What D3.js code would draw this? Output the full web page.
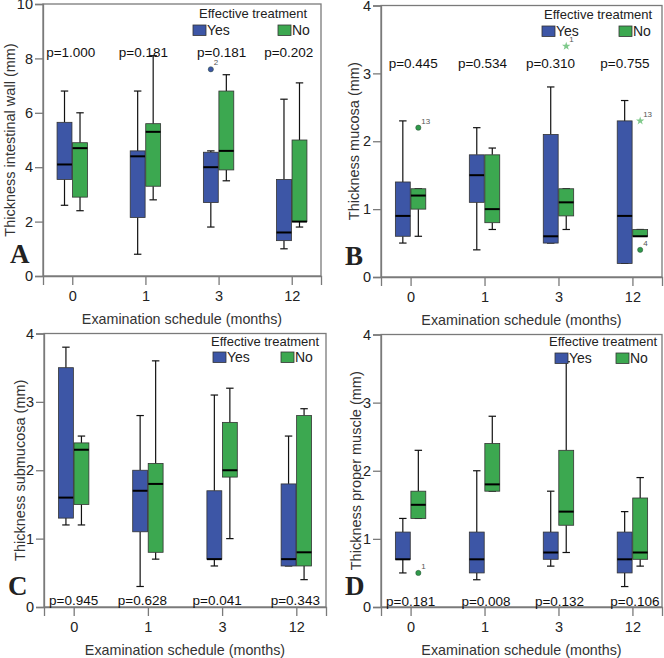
<!DOCTYPE html>
<html><head><meta charset="utf-8">
<script src="https://cdn.jsdelivr.net/npm/d3@7"></script>
<style>
body{margin:0;background:#fff}
text{font-family:"Liberation Sans",Arial,Helvetica,sans-serif}
text.letter{font-family:"Liberation Serif","Times New Roman",serif;font-weight:bold}
</style>
</head><body>
<svg id="c" width="664" height="658"></svg>
<script>
// ---------------- DATA ----------------
const categories = ["0", "1", "3", "12"];
const groups = ["Yes", "No"];
const legendTitle = "Effective treatment";
const xTitle = "Examination schedule (months)";
// each entry: [lower whisker, Q1, median, Q3, upper whisker]
const wallYes      = [[2.6, 3.55, 4.1, 5.65, 6.8], [0.8, 2.15, 4.4, 4.6, 6.8], [1.8, 2.7, 4.0, 4.55, 4.6], [1.0, 1.3, 1.6, 3.55, 6.5]];
const wallNo       = [[2.4, 2.9, 4.7, 4.9, 6.0], [2.8, 3.3, 5.3, 5.6, 8.1], [3.5, 3.9, 4.6, 6.8, 7.4], [1.8, 2.0, 2.0, 5.0, 7.1]];
const mucosaYes    = [[0.5, 0.6, 0.9, 1.4, 2.3], [0.4, 1.1, 1.5, 1.8, 2.2], [0.5, 0.5, 0.6, 2.1, 2.8], [0.2, 0.2, 0.9, 2.3, 2.6]];
const mucosaNo     = [[0.6, 1.0, 1.2, 1.3, 1.3], [0.7, 0.8, 1.0, 1.8, 1.9], [0.7, 0.9, 1.1, 1.3, 1.3], [0.6, 0.6, 0.6, 0.7, 0.7]];
const submucosaYes = [[1.2, 1.3, 1.6, 3.5, 3.8], [0.3, 1.1, 1.7, 2.0, 2.8], [0.6, 0.7, 0.7, 1.7, 3.1], [0.6, 0.6, 0.7, 1.8, 2.5]];
const submucosaNo  = [[1.2, 1.5, 2.3, 2.4, 2.5], [0.7, 0.8, 1.8, 2.1, 3.6], [1.0, 1.9, 2.0, 2.7, 3.2], [0.4, 0.6, 0.8, 2.8, 2.9]];
const muscleYes    = [[0.5, 0.7, 0.7, 1.1, 1.3], [0.4, 0.5, 0.7, 1.1, 2.0], [0.6, 0.7, 0.8, 1.1, 1.7], [0.3, 0.5, 0.7, 1.1, 1.4]];
const muscleNo     = [[1.3, 1.3, 1.5, 1.7, 2.3], [1.7, 1.7, 1.8, 2.4, 2.8], [0.8, 1.2, 1.4, 2.3, 3.6], [0.6, 0.7, 0.8, 1.6, 1.9]];

const wallOutliers = [{cat: "3", group: "Yes", value: 7.6, label: "2", kind: "circle"}];
const mucosaOutliers = [
  {cat: "0", group: "No", value: 2.2, label: "13", kind: "circle"},
  {cat: "3", group: "No", value: 3.4, label: "1", kind: "star"},
  {cat: "12", group: "No", value: 2.3, label: "13", kind: "star"},
  {cat: "12", group: "No", value: 0.4, label: "4", kind: "circle"}
];
const submucosaOutliers = [];
const muscleOutliers = [{cat: "0", group: "No", value: 0.5, label: "1", kind: "circle"}];

const wallP      = ["p=1.000", "p=0.181", "p=0.181", "p=0.202"];
const mucosaP    = ["p=0.445", "p=0.534", "p=0.310", "p=0.755"];
const submucosaP = ["p=0.945", "p=0.628", "p=0.041", "p=0.343"];
const muscleP    = ["p=0.181", "p=0.008", "p=0.132", "p=0.106"];

const wallTicks = [0, 2, 4, 6, 8, 10];
const mmTicks = [0, 1, 2, 3, 4];

// ---------------- LAYOUT ----------------
const colors = {Yes: "#3D56A6", No: "#3CA850"};
const panels = [
  {letter: "A", yTitle: "Thickness intestinal wall (mm)", yes: wallYes, no: wallNo, out: wallOutliers, p: wallP,
   ticks: wallTicks, ymax: 10, x0: 43, x1: 321, yb: 276, yt: 4, pY: 57, pOff: [-1.5, -2, 3, -3],
   yTitleX: 15, letterX: 10, letterY: 263, leg: {tx: 199, ty: 18, sx1: 193, sx2: 278, sy: 25}},
  {letter: "B", yTitle: "Thickness mucosa (mm)", yes: mucosaYes, no: mucosaNo, out: mucosaOutliers, p: mucosaP,
   ticks: mmTicks, ymax: 4, x0: 381, x1: 662, yb: 277, yt: 5.5, pY: 68, pOff: [2.7, -2, -8, -7.5],
   yTitleX: 359, letterX: 345, letterY: 265, leg: {tx: 544, ty: 18.5, sx1: 542, sx2: 619, sy: 26}},
  {letter: "C", yTitle: "Thickness submucosa (mm)", yes: submucosaYes, no: submucosaNo, out: submucosaOutliers, p: submucosaP,
   ticks: mmTicks, ymax: 4, x0: 44, x1: 326, yb: 607, yt: 333.5, pY: 605, pOff: [0, -5.5, -5, -1],
   yTitleX: 25, letterX: 8, letterY: 595, leg: {tx: 211, ty: 345.5, sx1: 213, sx2: 281, sy: 352}},
  {letter: "D", yTitle: "Thickness proper muscle (mm)", yes: muscleYes, no: muscleNo, out: muscleOutliers, p: muscleP,
   ticks: mmTicks, ymax: 4, x0: 381, x1: 662, yb: 607, yt: 334.5, pY: 605.5, pOff: [0, 1.5, 1, 2.5],
   yTitleX: 361, letterX: 345, letterY: 595, leg: {tx: 549, ty: 346, sx1: 555, sx2: 616, sy: 353}}
];

const svg = d3.select("#c");
const frameColor = "#7a7a7a";

panels.forEach(P => {
  const g = svg.append("g");
  const x = d3.scalePoint().domain(categories).range([P.x0, P.x1]).padding(0.4);
  const xg = d3.scaleBand().domain(groups).range([-15.2, 15.2]).paddingInner(0.04);
  const y = d3.scaleLinear().domain([0, P.ymax]).range([P.yb, P.yt]);

  // frame
  g.append("rect").attr("x", P.x0).attr("y", P.yt).attr("width", P.x1 - P.x0).attr("height", P.yb - P.yt)
    .attr("fill", "none").attr("stroke", frameColor).attr("stroke-width", 1.3);

  // axes
  const ya = g.append("g").attr("transform", `translate(${P.x0},0)`)
    .call(d3.axisLeft(y).tickValues(P.ticks).tickSize(8).tickPadding(2).tickFormat(d3.format("d")));
  const xa = g.append("g").attr("transform", `translate(0,${P.yb})`)
    .call(d3.axisBottom(x).tickSize(9).tickPadding(6));
  [ya, xa].forEach(a => {
    a.select(".domain").attr("stroke", frameColor).attr("stroke-width", 1.3);
    a.selectAll(".tick line").attr("stroke", frameColor).attr("stroke-width", 1.3);
    a.selectAll(".tick text").attr("font-size", 14.5).attr("fill", "#222");
  });

  // boxes
  const series = groups.map(gr => ({gr, vals: gr === "Yes" ? P.yes : P.no}));
  series.forEach(s => {
    s.vals.forEach((v, i) => {
      const cat = categories[i];
      const bx = x(cat) + xg(s.gr);
      const bw = xg.bandwidth();
      const cx = bx + bw / 2;
      const [lo, q1, md, q3, hi] = v;
      const bg = g.append("g");
      bg.append("line").attr("x1", cx).attr("x2", cx).attr("y1", y(q3)).attr("y2", y(hi))
        .attr("stroke", "#111").attr("stroke-width", 1.2);
      bg.append("line").attr("x1", cx).attr("x2", cx).attr("y1", y(q1)).attr("y2", y(lo))
        .attr("stroke", "#111").attr("stroke-width", 1.2);
      [lo, hi].forEach(w => bg.append("line").attr("x1", cx - bw / 4).attr("x2", cx + bw / 4)
        .attr("y1", y(w)).attr("y2", y(w)).attr("stroke", "#111").attr("stroke-width", 1.2));
      bg.append("rect").attr("x", bx).attr("width", bw).attr("y", y(q3)).attr("height", Math.max(0.5, y(q1) - y(q3)))
        .attr("fill", colors[s.gr]).attr("stroke", "#333").attr("stroke-width", 0.8);
      bg.append("line").attr("x1", bx).attr("x2", bx + bw).attr("y1", y(md)).attr("y2", y(md))
        .attr("stroke", "#000").attr("stroke-width", 2);
    });
  });

  // outliers
  P.out.forEach(o => {
    const cx = x(o.cat) + xg(o.group) + xg.bandwidth() / 2;
    const cy = y(o.value);
    if (o.kind === "circle") {
      g.append("circle").attr("cx", cx).attr("cy", cy).attr("r", 2.6)
        .attr("fill", o.group === "Yes" ? colors.Yes : "#2f9a4a").attr("stroke", "#2b4a36").attr("stroke-width", 0.5);
    } else {
      g.append("path").attr("d", d3.symbol().type(d3.symbolStar).size(22)())
        .attr("transform", `translate(${cx},${cy})`).attr("fill", "#7fc98a");
    }
    g.append("text").attr("x", cx + 3).attr("y", cy - 4).attr("font-size", 8).attr("fill", "#555").text(o.label);
  });

  // p-values
  P.p.forEach((t, i) => {
    g.append("text").attr("x", x(categories[i]) + P.pOff[i]).attr("y", P.pY).attr("text-anchor", "middle")
      .attr("font-size", 13.5).attr("fill", "#111").text(t);
  });

  // legend
  const L = P.leg;
  g.append("text").attr("x", L.tx).attr("y", L.ty).attr("font-size", 13).attr("fill", "#222").text(legendTitle);
  groups.forEach((gr, i) => {
    const sx = i === 0 ? L.sx1 : L.sx2;
    g.append("rect").attr("x", sx).attr("y", L.sy).attr("width", 13).attr("height", 10.5)
      .attr("fill", colors[gr]).attr("stroke", "#333").attr("stroke-width", 0.8);
    g.append("text").attr("x", sx + 14).attr("y", L.sy + 10).attr("font-size", 14).attr("fill", "#222").text(gr);
  });

  // titles
  g.append("text").attr("x", (P.x0 + P.x1) / 2).attr("y", P.yb + 47.5).attr("text-anchor", "middle")
    .attr("font-size", 14.3).attr("fill", "#333").text(xTitle);
  g.append("text").attr("transform", `translate(${P.yTitleX},${(P.yt + P.yb) / 2}) rotate(-90)`)
    .attr("text-anchor", "middle").attr("font-size", 14.5).attr("fill", "#333").text(P.yTitle);

  // panel letter
  g.append("text").attr("class", "letter").attr("x", P.letterX).attr("y", P.letterY)
    .attr("font-size", 27).attr("fill", "#222").text(P.letter);
});
</script>
</body></html>
